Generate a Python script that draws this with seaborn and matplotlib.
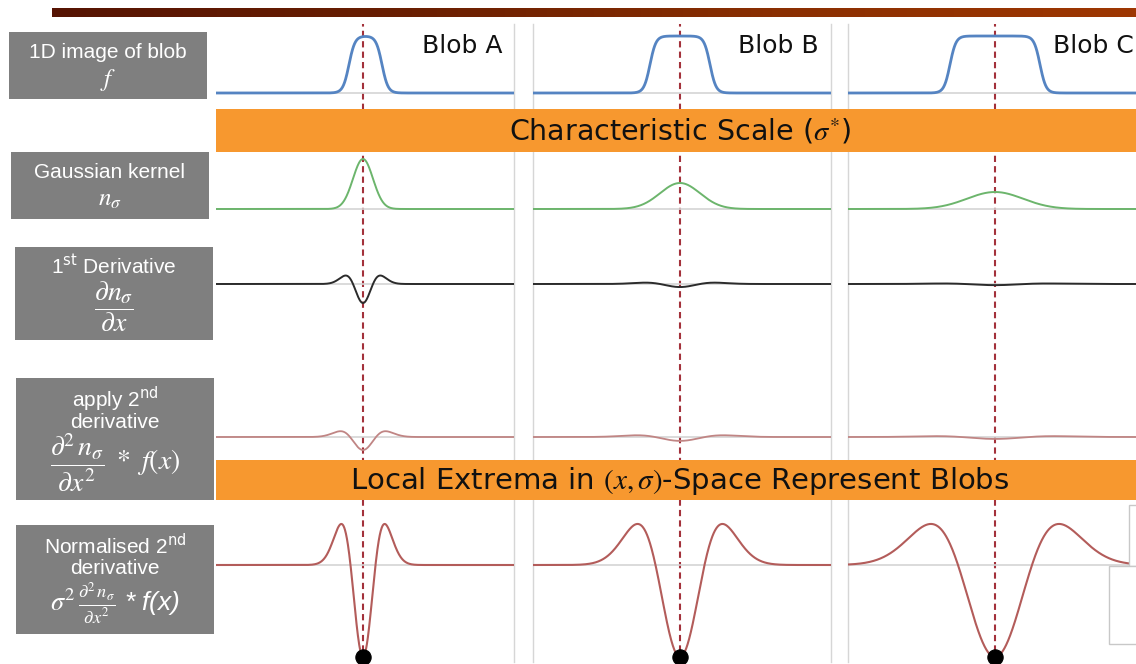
import numpy as np
import matplotlib
matplotlib.use("Agg")
import matplotlib.pyplot as plt
import seaborn as sns
from matplotlib.patches import Rectangle
from matplotlib.colors import LinearSegmentedColormap

# ---- blob and filter-response parameters (pixel-like units, x measured from blob centre)
blob_names = ["Blob A", "Blob B", "Blob C"]
blob_offset = [2.5, 0.0, 0.0]
blob_halfwidth = [16.5, 30.0, 45.0]
kernel_sigma = [10.0, 20.0, 28.0]
kernel_peak = [1.0, 0.52, 0.34]
first_deriv_scale = [10.0, 20.0, 30.0]
first_deriv_depth = [1.0, 0.16, 0.06]
second_deriv_scale = [13.0, 25.0, 34.0]
second_deriv_depth = [1.0, 0.30, 0.15]
norm_scale = [12.5, 24.5, 37.0]
norm_depth = [1.0, 1.0, 1.0]

row_titles = [
    ["1D image of blob", r"$f$"],
    ["Gaussian kernel", r"$n_\sigma$"],
    [r"1$^{\mathrm{st}}$ Derivative", r"$\dfrac{\partial n_\sigma}{\partial x}$"],
    [r"apply 2$^{\mathrm{nd}}$", "derivative",
     r"$\dfrac{\partial^2\, n_\sigma}{\partial x^2}\ *\ f(x)$"],
    [r"Normalised 2$^{\mathrm{nd}}$", "derivative",
     r"$\sigma^2\,\frac{\partial^2\, n_\sigma}{\partial x^2}$ * f(x)"],
]
banner_texts = [r"Characteristic Scale ($\sigma^{*}$)",
                r"Local Extrema in $(x,\sigma)$-Space Represent Blobs"]

sns.set_theme(style="white")
plt.rcParams["font.family"] = ["Liberation Sans", "DejaVu Sans"]
plt.rcParams["mathtext.fontset"] = "stix"

W, H = 1136, 664
fig = plt.figure(figsize=(W / 100, H / 100), dpi=100)
fig.patch.set_facecolor("white")


def frac_box(x0, y0, x1, y1):
    return [x0 / W, 1 - y1 / H, (x1 - x0) / W, (y1 - y0) / H]


def fx(x):
    return x / W


def fy(y):
    return 1 - y / H


def smooth_box(x, c, h, w=6.0):
    return 0.5 * (np.tanh((x - c + h) / w) - np.tanh((x - c - h) / w))


def gaussian(x, s, a):
    return a * np.exp(-x ** 2 / (2 * s ** 2))


def hat(x, s, d):
    return -d * (1 - (x / s) ** 2) * np.exp(-x ** 2 / (2 * s ** 2))


XLIM = (-147, 151)
x = np.linspace(XLIM[0], XLIM[1], 900)
col_left = [216, 533, 848]
col_w = 298

# ---- top gradient rule
bar = fig.add_axes(frac_box(52, 8, W, 17))
grad = LinearSegmentedColormap.from_list("rule", ["#561404", "#6a1f02", "#8a2f02", "#9e3703"])
bar.imshow(np.linspace(0, 1, 256)[None, :], aspect="auto", cmap=grad)
bar.axis("off")

# ---- column frames and the dashed blob-centre markers
for i, left in enumerate(col_left):
    cax = fig.add_axes(frac_box(left, 24, left + col_w, 662), zorder=1)
    cax.set_xlim(*XLIM)
    cax.set_ylim(0, 1)
    cax.patch.set_alpha(0)
    cax.set_xticks([])
    cax.set_yticks([])
    for side in ["top", "bottom", "left", "right"]:
        cax.spines[side].set_visible(False)
    if i < 2:
        cax.spines["right"].set_visible(True)
    if i > 0:
        cax.spines["left"].set_visible(True)
    for side in ["left", "right"]:
        cax.spines[side].set_color("#d6d6d6")
        cax.spines[side].set_linewidth(1.0)
    cax.axvline(0, color="#a3313b", lw=1.5, ls=(0, (3, 2)))

# ---- curve rows: (top px, bottom px, baseline px, px per unit)
rows = [(28, 104, 93, 57), (152, 232, 209, 50), (240, 330, 284, 19),
        (380, 458, 437, 13), (502, 664, 565, 92)]
colors = ["#5584c2", "#6cb56c", "#2b2b2b", "#c08584", "#b35c5a"]
widths = [2.0, 1.4, 1.4, 1.3, 1.5]

for r, (top, bottom, base, unit) in enumerate(rows):
    for i, left in enumerate(col_left):
        ax = fig.add_axes(frac_box(left, top, left + col_w, bottom), zorder=2)
        ax.set_xlim(*XLIM)
        ax.set_ylim(-(bottom - base) / unit, (base - top) / unit)
        ax.axis("off")
        ax.patch.set_alpha(0)
        if r == 0:
            y = smooth_box(x, blob_offset[i], blob_halfwidth[i])
        elif r == 1:
            y = gaussian(x, kernel_sigma[i], kernel_peak[i])
        elif r == 2:
            y = hat(x, first_deriv_scale[i], first_deriv_depth[i])
        elif r == 3:
            y = hat(x, second_deriv_scale[i], second_deriv_depth[i])
        else:
            y = hat(x, norm_scale[i], norm_depth[i])
        ax.axhline(0, color="#d4d4d4", lw=1.2, zorder=1)
        sns.lineplot(x=x, y=y, ax=ax, color=colors[r], lw=widths[r], zorder=2)
        if r == 0:
            ax.text(139, 0.83, blob_names[i], ha="right", va="center",
                    fontsize=18, family="DejaVu Sans", color="#111111")
        if r == 4:
            sns.scatterplot(x=[0.0], y=[-norm_depth[i]], ax=ax, s=120,
                            color="black", edgecolor="black", clip_on=False, zorder=5)

# ---- orange banners
for (y0, y1), txt, fs in zip([(109, 152), (460, 500)], banner_texts, [20.5, 21]):
    fig.patches.append(Rectangle((fx(216), fy(y1)), fx(W) - fx(216) + 0.01, fy(y0) - fy(y1),
                                 transform=fig.transFigure, facecolor="#f7982f",
                                 edgecolor="none", zorder=3))
    fig.text(fx(680), fy((y0 + y1) / 2 + 1), txt, ha="center", va="center", fontsize=fs,
             family="DejaVu Sans", color="#111111", zorder=4)

# ---- small frame remnants at the lower right
fig.patches.append(Rectangle((fx(1129), fy(566)), 0.02, fy(505) - fy(566),
                             transform=fig.transFigure, facecolor="white",
                             edgecolor="#c8c8c8", lw=1.0, zorder=3))
fig.patches.append(Rectangle((fx(1109), fy(644)), 0.04, fy(566) - fy(644),
                             transform=fig.transFigure, facecolor="white",
                             edgecolor="#c8c8c8", lw=1.0, zorder=3))

# ---- grey row-label boxes
label_boxes = [(9, 32, 207, 99), (11, 152, 209, 219), (15, 247, 213, 340),
               (16, 378, 214, 500), (16, 525, 214, 634)]
line_pos = [[52, 80], [172, 199], [266, 307], [399, 422, 463], [546, 569, 604]]
for (x0, y0, x1, y1), lines, ys in zip(label_boxes, row_titles, line_pos):
    fig.patches.append(Rectangle((fx(x0), fy(y1)), fx(x1) - fx(x0), fy(y0) - fy(y1),
                                 transform=fig.transFigure, facecolor="#7f7f7f",
                                 edgecolor="none", zorder=3))
    cx = (x0 + x1) / 2
    for txt, yy in zip(lines, ys):
        is_formula = txt.startswith("$")
        kw = dict(ha="center", va="center", color="white", zorder=4)
        if "f(x)" in txt and not txt.endswith("$"):
            fig.text(fx(cx), fy(yy), txt, fontsize=19, style="italic", **kw)
        elif is_formula:
            size = 18 if txt == r"$f$" or txt == r"$n_\sigma$" else 20
            fig.text(fx(cx), fy(yy), txt, fontsize=size, **kw)
        else:
            fig.text(fx(cx), fy(yy), txt, fontsize=15, math_fontfamily="dejavusans", **kw)

fig.savefig("out.png", dpi=100, facecolor="white")
